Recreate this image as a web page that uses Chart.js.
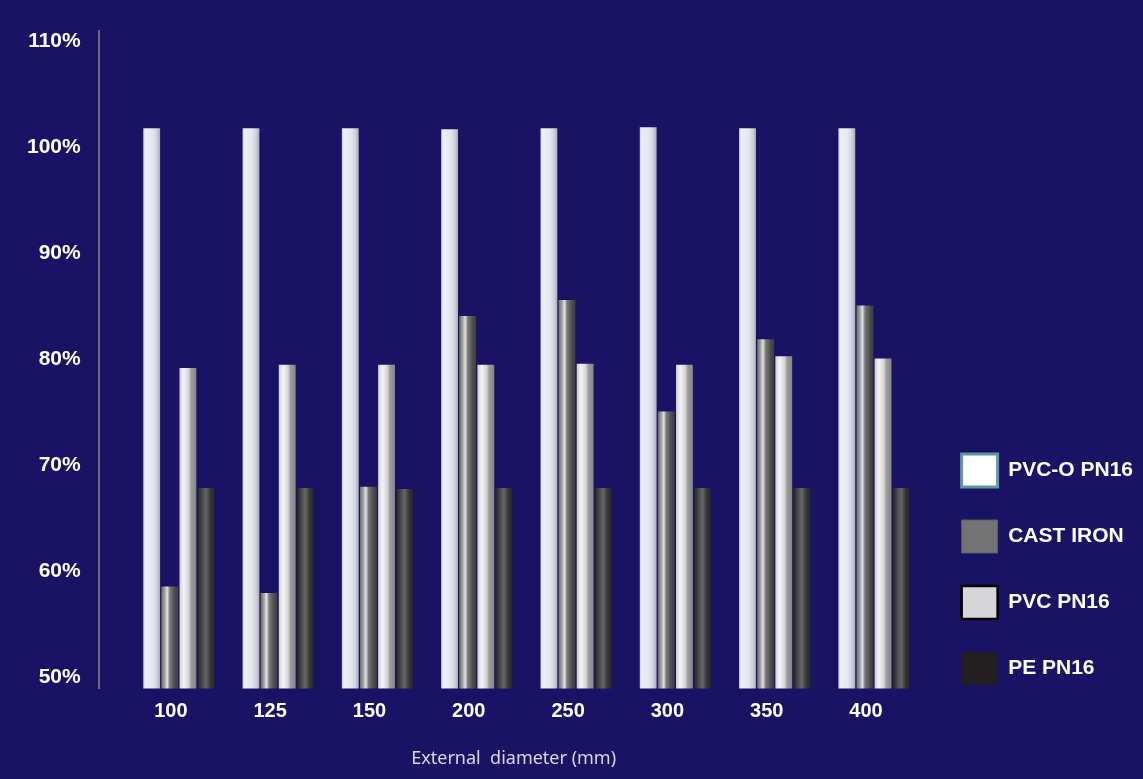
<!DOCTYPE html>
<html>
<head>
<meta charset="utf-8">
<script src="https://cdn.jsdelivr.net/npm/chart.js@4.4.0/dist/chart.umd.min.js"></script>
<style>
  html, body { margin: 0; padding: 0; background: #1a1264; }
  #wrap { width: 1143px; height: 779px; }
</style>
</head>
<body>
<div id="wrap"><canvas id="grafica"></canvas></div>
<script>
// datos
const categorias = ['100', '125', '150', '200', '250', '300', '350', '400'];
const series = ['PVC-O PN16', 'CAST IRON', 'PVC PN16', 'PE PN16'];
const pvcO = [102.8, 102.8, 102.8, 102.7, 102.8, 102.9, 102.8, 102.8];
const castIron = [59.6, 59.0, 69.0, 85.1, 86.6, 76.1, 82.9, 86.1];
const pvc = [80.2, 80.5, 80.5, 80.5, 80.6, 80.5, 81.3, 81.1];
const pe = [68.9, 68.9, 68.8, 68.9, 68.9, 68.9, 68.9, 68.9];
const ticksY = [50, 60, 70, 80, 90, 100, 110];

// estilos
const leyendaRelleno = ['#ffffff', '#737373', '#d6d6d8', '#231f20'];
const leyendaBorde = ['#5b9a9c', '#5f5f5f', '#000000', '#231f20'];
const leyendaGrosor = [3, 1, 2.5, 0];
const sombras = [
  [[0, '#c8ccd8'], [0.12, '#eef0f6'], [0.55, '#e4e7ef'], [0.8, '#cfd2dc'], [1, '#a9adb9']],
  [[0, '#6c6c6c'], [0.18, '#9c9c9c'], [0.35, '#e2e2e2'], [0.5, '#7a7a7a'], [0.8, '#4c4c4c'], [1, '#3c3c3c']],
  [[0, '#cdcdcd'], [0.25, '#f4f4f4'], [0.55, '#d4d4d4'], [0.7, '#9c9c9c'], [1, '#868686']],
  [[0, '#242424'], [0.35, '#555555'], [0.5, '#666666'], [0.75, '#383838'], [1, '#262626']]
];

// fondo azul
const fondo = {
  id: 'fondo',
  beforeDraw(chart) {
    const c = chart.ctx;
    c.save();
    c.fillStyle = '#1a1264';
    c.fillRect(0, 0, chart.width, chart.height);
    c.restore();
  }
};

// degradado tipo cilindro en cada barra
const cilindros = {
  id: 'cilindros',
  beforeDatasetsDraw(chart) {
    const ctx = chart.ctx;
    chart.data.datasets.forEach((ds, i) => {
      chart.getDatasetMeta(i).data.forEach(bar => {
        const x0 = bar.x - bar.width / 2;
        const g = ctx.createLinearGradient(x0, 0, x0 + bar.width, 0);
        sombras[i].forEach(([p, c]) => g.addColorStop(p, c));
        bar.options = Object.assign({}, bar.options, { backgroundColor: g });
      });
    });
  }
};

const valores = [pvcO, castIron, pvc, pe];

new Chart(document.getElementById('grafica'), {
  type: 'bar',
  data: {
    datasets: valores.map((vals, i) => ({
      label: series[i],
      data: vals.map((v, j) => ({ x: j, y: v })),
      backgroundColor: leyendaRelleno[i],
      borderWidth: 0,
      categoryPercentage: 0.73,
      barPercentage: 0.93
    }))
  },
  options: {
    responsive: true,
    maintainAspectRatio: false,
    animation: false,
    layout: { padding: { left: 9, top: 18, right: 0, bottom: 8 } },
    plugins: {
      tooltip: { enabled: false },
      legend: {
        position: 'right',
        align: 'start',
        fullSize: true,
        title: { display: true, text: '', font: { size: 10 }, padding: { top: 391, bottom: 0 } },
        labels: {
          boxWidth: 36,
          boxHeight: 33,
          padding: 33,
          color: '#ffffff',
          font: { family: 'Liberation Sans', size: 21, weight: 'bold' },
          generateLabels: () => series.map((s, i) => ({
            text: s,
            fillStyle: leyendaRelleno[i],
            strokeStyle: leyendaBorde[i],
            lineWidth: leyendaGrosor[i],
            fontColor: '#ffffff',
            hidden: false,
            datasetIndex: i
          }))
        }
      }
    },
    scales: {
      x: {
        type: 'linear',
        offset: false,
        min: -0.807,
        max: 7.55,
        grid: { display: false, offset: false },
        border: { display: false },
        afterBuildTicks: s => { s.ticks = categorias.map((c, i) => ({ value: i })); },
        ticks: {
          color: '#ffffff',
          padding: 3,
          labelOffset: -8,
          autoSkip: false,
          maxRotation: 0,
          font: { family: 'Liberation Sans', size: 20, weight: 'bold' },
          callback: v => categorias[v]
        },
        title: {
          display: true,
          text: 'External  diameter (mm)',
          color: '#d8d8ee',
          font: { family: 'Noto Sans', size: 18 },
          padding: { top: 22, bottom: 1 }
        }
      },
      y: {
        min: 50,
        max: 112,
        grid: { display: false, drawTicks: false },
        border: { display: true, color: '#6a6a6a', width: 2 },
        afterBuildTicks: s => { s.ticks = ticksY.map(v => ({ value: v })); },
        ticks: {
          color: '#ffffff',
          padding: 18,
          labelOffset: -11,
          font: { family: 'Liberation Sans', size: 21, weight: 'bold' },
          callback: v => v + '%'
        }
      }
    }
  },
  plugins: [fondo, cilindros]
});
</script>
</body>
</html>
